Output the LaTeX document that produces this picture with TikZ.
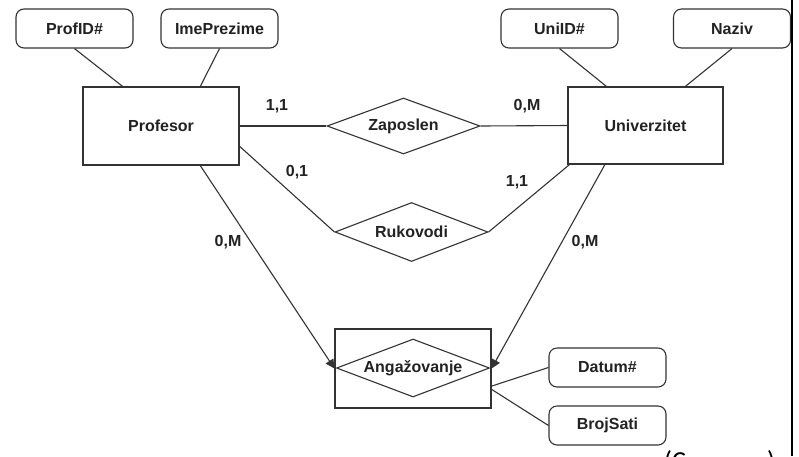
\documentclass[tikz,border=0pt]{standalone}
\usepackage{fontspec}
\setmainfont{Liberation Sans}
\newfontfamily\capfont{Carlito}
\usetikzlibrary{shapes.geometric,arrows.meta,calc}
\definecolor{ln}{HTML}{333333}
\definecolor{tx}{HTML}{222222}
\tikzset{
  base/.style={draw=ln,line width=1.1pt,text=tx,font=\bfseries\fontsize{16}{18}\selectfont,inner sep=0pt},
  attr/.style={base,rounded corners=8pt,minimum width=117pt,minimum height=39pt},
  entity/.style={base,minimum width=156pt,minimum height=78pt},
  rel/.style={base,diamond,aspect=2.6,minimum width=153pt,minimum height=57pt},
  conn/.style={draw=ln,line width=1.1pt},
  arr/.style={conn,-{Triangle[length=9pt,width=9pt]}},
  card/.style={text=tx,font=\bfseries\fontsize{16}{18}\selectfont,inner sep=0pt}
}
\begin{document}
\begin{tikzpicture}[x=1pt,y=-1pt]
\useasboundingbox[fill=white] (0,0) rectangle (799,456);
% attributes
\node[attr] (profid) at (74.5,28.5) {ProfID\#};
\node[attr] (ime) at (219.5,28.5) {ImePrezime};
\node[attr] (uniid) at (559.5,28.5) {UniID\#};
\node[attr] (naziv) at (732,28.5) {Naziv};
\node[attr] (datum) at (607.5,367.5) {Datum\#};
\node[attr] (broj) at (607.5,425.5) {BrojSati};
% entities
\node[entity] (prof) at (161,126) {Profesor};
\node[entity,minimum width=155pt,minimum height=77pt] (uni) at (645.5,125.5) {Univerzitet};
% relationships
\node[rel,minimum height=56pt] (zap) at (403.5,126) {Zaposlen};
\node[rel,minimum height=59pt] (ruk) at (411.5,232) {Rukovodi};
\node[entity,minimum width=156pt,minimum height=79pt] (angbox) at (413,368.5) {};
\node[rel,minimum height=58pt] (ang) at (413,368) {Angažovanje};
% connectors
\draw[conn] (profid.south) -- ($(prof.north west)!0.256!(prof.north east)$);
\draw[conn] (ime.south) -- ($(prof.north west)!0.75!(prof.north east)$);
\draw[conn] (prof.east) -- (zap.west);
\draw[conn] ($(prof.north east)!0.756!(prof.south east)$) -- (ruk.west);
\draw[arr] ($(prof.south west)!0.75!(prof.south east)$) -- (angbox.west);
\draw[conn] (zap.east) -- (uni.west);
\draw[conn] (uniid.south) -- ($(uni.north west)!0.25!(uni.north east)$);
\draw[conn] (naziv.south) -- ($(uni.north west)!0.755!(uni.north east)$);
\draw[conn] ($(uni.south west)!0.013!(uni.south east)$) -- (ruk.east);
\draw[arr] ($(uni.south west)!0.24!(uni.south east)$) -- (angbox.east);
\draw[conn] ($(angbox.north east)!0.72!(angbox.south east)$) -- (datum.west);
\draw[conn] ($(angbox.north east)!0.76!(angbox.south east)$) -- (broj.west);
% cardinalities
\node[card] (c1) at (277,106) {1,1};
\node[card] (c2) at (297,172) {0,1};
\node[card] (c3) at (228,242) {0,M};
\node[card] (c4) at (527,106) {0,M};
\node[card] (c5) at (517,182) {1,1};
\node[card] (c6) at (585,242) {0,M};
% page edge line and clipped caption
\coordinate (et) at (792,0);
\coordinate (eb) at (792,456);
\draw[black,line width=1.4pt] (et) -- (eb);
\node[anchor=base west,inner sep=0pt,font=\capfont\fontsize{26}{28}\selectfont] (capl) at (664,469) {(C};
\node[anchor=base west,inner sep=0pt,font=\capfont\fontsize{26}{28}\selectfont] (capr) at (767,469) {)};
\end{tikzpicture}
\end{document}
